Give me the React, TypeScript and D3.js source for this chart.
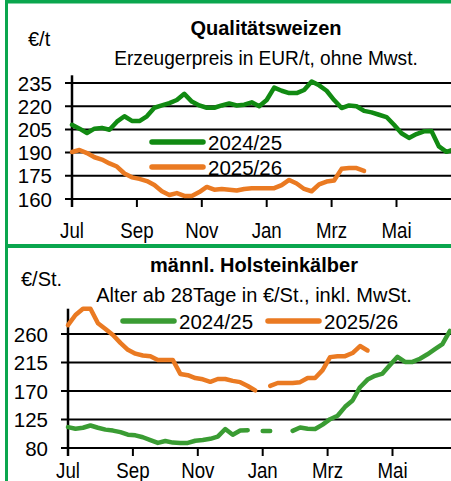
import { scaleLinear, line } from 'd3'

// Two stacked weekly price panels, German agricultural market report style.
// x is month index (0 = Jul), weekly points at 12/52 month steps.

const MONTHS = ['Jul', 'Sep', 'Nov', 'Jan', 'Mrz', 'Mai']
const MONTH_POS = [0, 2, 4, 6, 8, 10]
const SEASONS = ['2024/25', '2025/26']

// Qualitätsweizen, EUR/t
const WHEAT_TICKS = [160, 175, 190, 205, 220, 235]
const wheat2425 = [
  208, 205.5, 202.7, 205.5, 206, 204.8, 210, 213.5, 210.5, 210.4, 213.5, 219, 220.5, 222, 224, 228, 223,
  220.5, 219, 219, 220.5, 221.8, 220.5, 221, 222.5, 220, 224, 232, 230, 228.5, 228.5, 230.5, 236, 233.5,
  230, 224, 218.8, 220.5, 220, 217, 216, 214.5, 213, 208, 202.5, 199.5, 202, 203.8, 204, 194, 190.5, 192,
]
const wheat2526 = [
  190.4, 191.7, 189.7, 187, 185.5, 183, 181, 176.5, 174, 173, 171.6, 169, 165, 162.6, 163.8, 162, 162,
  164.5, 167.8, 166, 166.5, 166, 165.5, 166.5, 167, 167, 167, 167, 169, 172.3, 170, 166.5, 165, 169.5,
  171.3, 172, 179.5, 180, 180, 178.2,
]

// männl. Holsteinkälber, €/St.
const CALF_TICKS = [80, 125, 170, 215, 260]
const calf2425: (number | null)[] = [
  113, 110.5, 112, 115.5, 112, 109, 107.5, 105, 101, 100, 97, 92.5, 88, 91, 88.5, 88, 88, 91.5, 92.6, 94.5,
  98, 110, 101, 107.5, 108, null, 107, 107, null, null, 107, 112.5, 110.5, 110, 117, 125.5, 131, 145, 155,
  176, 188, 194, 197.5, 211, 224, 216, 216, 221, 228, 236, 244, 265,
]
const calf2526: (number | null)[] = [
  274, 290, 300, 300, 277, 268, 258.5, 246, 235, 229, 226, 225, 219, 219, 219, 197, 195, 190.5, 188.5,
  184.5, 189, 189, 186, 184, 178, 171, null, 178, 182.7, 182.7, 182.7, 184, 190.6, 190.6, 203, 223.5, 225,
  225, 230, 241, 234,
]

const BORDER = '#0aa64e'
const DARKGREEN = '#118a12'
const GREEN = '#3a9c33'
const ORANGE = '#ea7a22'
const FONT = '"Liberation Sans", Arial, sans-serif'

type Panel = {
  title: string
  subtitle: string
  subScale: number
  unit: string
  top: number
  x0: number
  yDomain: [number, number]
  yRange: [number, number]
  ticks: number[]
  series: { values: (number | null)[]; color: string }[]
  legend: { x: number; y: number; color: string; label: string }[]
  titleX: number
  titleY: number
  subY: number
  unitX: number
  unitY: number
  labelX: number
  monthY: number
}

function ChartPanel({ p }: { p: Panel }) {
  const month = 32.45
  const x = scaleLinear().domain([0, 12]).range([p.x0, p.x0 + 12 * month])
  const y = scaleLinear().domain(p.yDomain).range(p.yRange)
  const week = (i: number) => x((i * 12) / 52)
  const base = y(p.yDomain[0])
  const path = line<number | null>()
    .defined((d) => d != null)
    .x((_, i) => week(i))
    .y((d) => y(d as number))

  return (
    <g fontFamily={FONT}>
      <text x={p.titleX} y={p.titleY} textAnchor="middle" fontWeight="bold" fontSize={20}>
        {p.title}
      </text>
      <text
        transform={`translate(${p.titleX},${p.subY}) scale(${p.subScale},1)`}
        textAnchor="middle"
        fontSize={20}
      >
        {p.subtitle}
      </text>
      <text x={p.unitX} y={p.unitY} fontSize={20}>
        {p.unit}
      </text>
      {p.ticks.map((t) => (
        <g key={t}>
          <line x1={p.x0 - 7} x2={451} y1={y(t)} y2={y(t)} stroke="#000" strokeWidth={2} />
          <text x={p.labelX} y={y(t) + 7.5} textAnchor="end" fontSize={20.5}>
            {t}
          </text>
        </g>
      ))}
      <line x1={p.x0} x2={p.x0} y1={y(p.yDomain[1])} y2={base + 8} stroke="#000" strokeWidth={2.5} />
      {MONTH_POS.map((m, i) => (
        <g key={m}>
          <line x1={x(m)} x2={x(m)} y1={base} y2={base + 8} stroke="#000" strokeWidth={2} />
          <text
            transform={`translate(${x(m)},${p.monthY}) scale(0.85,1)`}
            textAnchor="middle"
            fontSize={22}
          >
            {MONTHS[i]}
          </text>
        </g>
      ))}
      {p.series.map((s, i) => (
        <path
          key={i}
          d={path(s.values) ?? ''}
          fill="none"
          stroke={s.color}
          strokeWidth={4.5}
          strokeLinejoin="round"
          strokeLinecap="round"
        />
      ))}
      {p.legend.map((l) => (
        <g key={l.label}>
          <line x1={l.x} x2={l.x + 51} y1={l.y} y2={l.y} stroke={l.color} strokeWidth={5.5} strokeLinecap="round" />
          <text x={l.x + 56} y={l.y + 7.5} fontSize={20.5}>
            {l.label}
          </text>
        </g>
      ))}
    </g>
  )
}

export default function App() {
  const wheat: Panel = {
    title: 'Qualitätsweizen',
    subtitle: 'Erzeugerpreis in EUR/t, ohne Mwst.',
    subScale: 0.955,
    unit: '€/t',
    top: 0,
    x0: 72,
    yDomain: [160, 240],
    yRange: [199, 75.3],
    ticks: WHEAT_TICKS,
    series: [
      { values: wheat2425, color: DARKGREEN },
      { values: wheat2526, color: ORANGE },
    ],
    legend: [
      { x: 152, y: 142, color: DARKGREEN, label: SEASONS[0] },
      { x: 152, y: 167, color: ORANGE, label: SEASONS[1] },
    ],
    titleX: 266,
    titleY: 35,
    subY: 65,
    unitX: 28,
    unitY: 46,
    labelX: 52,
    monthY: 238,
  }
  const calves: Panel = {
    title: 'männl. Holsteinkälber',
    subtitle: 'Alter ab 28Tage in €/St., inkl. MwSt.',
    subScale: 1,
    unit: '€/St.',
    top: 248,
    x0: 68,
    yDomain: [80, 300],
    yRange: [448, 308.7],
    ticks: CALF_TICKS,
    series: [
      { values: calf2425, color: GREEN },
      { values: calf2526, color: ORANGE },
    ],
    legend: [
      { x: 123, y: 321, color: GREEN, label: SEASONS[0] },
      { x: 268, y: 321, color: ORANGE, label: SEASONS[1] },
    ],
    titleX: 254,
    titleY: 272,
    subY: 302,
    unitX: 21,
    unitY: 286,
    labelX: 48,
    monthY: 478,
  }

  return (
    <svg
      width={451}
      height={481}
      viewBox="0 0 451 481"
      style={{ position: 'absolute', left: 0, top: 0, background: '#fff' }}
    >
      <rect x={0} y={0} width={451} height={481} fill="#fff" />
      <ChartPanel p={wheat} />
      <ChartPanel p={calves} />
      <rect x={5} y={0} width={446} height={3.5} fill={BORDER} />
      <rect x={5} y={244} width={446} height={4} fill={BORDER} />
      <rect x={5} y={0} width={3} height={481} fill={BORDER} />
    </svg>
  )
}
